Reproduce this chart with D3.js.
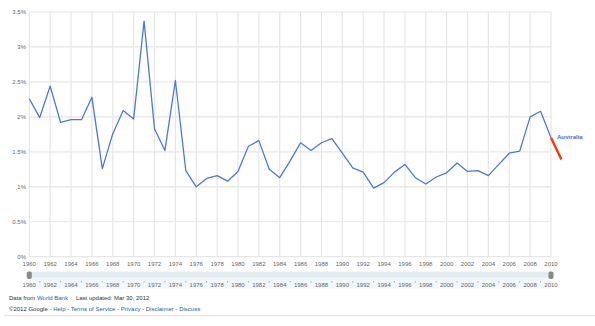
<!DOCTYPE html>
<html>
<head>
<meta charset="utf-8">
<script src="https://cdn.jsdelivr.net/npm/d3@7"></script>
<style>
  html, body { margin: 0; padding: 0; background: #fff; }
  svg { display: block; font-family: Arial, "Liberation Sans", sans-serif; }
</style>
</head>
<body>
<svg id="chart" width="595" height="326"></svg>
<script>
// Australia, population growth (annual %), World Bank
const years = d3.range(1960, 2011);
const growth = [
  2.26, 1.99, 2.44, 1.92, 1.96, 1.96, 2.28, 1.26, 1.76, 2.09,
  1.97, 3.37, 1.83, 1.52, 2.52, 1.23, 1.00, 1.12, 1.16, 1.08,
  1.22, 1.58, 1.66, 1.25, 1.13, 1.37, 1.63, 1.52, 1.63, 1.69,
  1.48, 1.27, 1.21, 0.98, 1.06, 1.21, 1.32, 1.13, 1.04, 1.14,
  1.20, 1.34, 1.22, 1.23, 1.16, 1.32, 1.48, 1.51, 2.00, 2.08,
  1.70
];
// highlighted trailing segment
const tailYears = [2010, 2011];
const tailValues = [1.70, 1.39];
const seriesName = "Australia";

const yTicks = [0, 0.5, 1, 1.5, 2, 2.5, 3, 3.5];
const xTicks = d3.range(1960, 2011, 2);
const minorTicks = d3.range(1961, 2010, 2);

const svg = d3.select("#chart");

const x = d3.scaleLinear().domain([1960, 2010]).range([29.3, 551]);
const y = d3.scaleLinear().domain([0, 3.5]).range([256.7, 12]);

const grid = "#e6e6e6";
const textCol = "#666";

// grid
svg.append("g").selectAll("line.h").data(yTicks).join("line")
  .attr("x1", x(1960)).attr("x2", x(2010))
  .attr("y1", d => y(d)).attr("y2", d => y(d))
  .attr("stroke", grid).attr("stroke-width", 1.2);
svg.append("g").selectAll("line.v").data(xTicks).join("line")
  .attr("x1", d => x(d)).attr("x2", d => x(d))
  .attr("y1", y(3.5)).attr("y2", y(0))
  .attr("stroke", grid).attr("stroke-width", 1.2);

// y labels
svg.append("g").selectAll("text").data(yTicks).join("text")
  .attr("x", 26).attr("y", d => y(d) + 2)
  .attr("text-anchor", "end")
  .attr("font-size", 6).attr("fill", textCol)
  .text(d => d + "%");

// x labels
svg.append("g").selectAll("text").data(xTicks).join("text")
  .attr("x", d => x(d)).attr("y", 266)
  .attr("text-anchor", "middle")
  .attr("font-size", 6).attr("fill", textCol)
  .text(d => d);

// series line
const line = d3.line().x(d => x(d[0])).y(d => y(d[1]));
svg.append("path")
  .datum(years.map((yr, i) => [yr, growth[i]]))
  .attr("d", line)
  .attr("fill", "none")
  .attr("stroke", "#4a79d8")
  .attr("stroke-width", 1.3)
  .attr("stroke-linejoin", "round");

svg.append("path")
  .datum(tailYears.map((yr, i) => [yr, tailValues[i]]))
  .attr("d", line)
  .attr("fill", "none")
  .attr("stroke", "#f53a0c")
  .attr("stroke-width", 2.4);

svg.append("text")
  .attr("x", 557).attr("y", y(1.7) + 1)
  .attr("font-size", 6).attr("font-weight", "bold")
  .attr("fill", "#3f6fd6")
  .text(seriesName);

// time slider
const slider = svg.append("g");
slider.append("rect")
  .attr("x", x(1960)).attr("y", 271)
  .attr("width", x(2010) - x(1960)).attr("height", 17.5)
  .attr("fill", "#f1f8fb");
slider.append("rect")
  .attr("x", x(1960)).attr("y", 272)
  .attr("width", x(2010) - x(1960)).attr("height", 5.5)
  .attr("fill", "#e2ecf1");
slider.selectAll("text").data(xTicks).join("text")
  .attr("x", d => x(d)).attr("y", 286.5)
  .attr("text-anchor", "middle")
  .attr("font-size", 6).attr("fill", textCol)
  .text(d => d);
slider.selectAll("line").data(minorTicks).join("line")
  .attr("x1", d => x(d)).attr("x2", d => x(d))
  .attr("y1", 281).attr("y2", 282.5)
  .attr("stroke", "#999").attr("stroke-width", 0.8);
[1960, 2010].forEach(yr => {
  slider.append("rect")
    .attr("x", x(yr) - 2.5).attr("y", 271.5)
    .attr("width", 5).attr("height", 7.5)
    .attr("rx", 1.8)
    .attr("fill", "#8a8a8a");
});

// footer
const foot = svg.append("g").attr("font-size", 6).attr("fill", "#333");
const l1 = foot.append("text").attr("x", 9).attr("y", 299.5);
l1.append("tspan").text("Data from ");
l1.append("tspan").attr("fill", "#2a5db0").text("World Bank");
l1.append("tspan").attr("dx", 8).text("Last updated: Mar 30, 2012");

const l2 = foot.append("text").attr("x", 9).attr("y", 310.5);
const parts = ["Help", "Terms of Service", "Privacy", "Disclaimer", "Discuss"];
l2.append("tspan").text("\u00a92012 Google");
parts.forEach(p => {
  l2.append("tspan").text(" - ");
  l2.append("tspan").attr("fill", "#2a5db0").text(p);
});

svg.append("line")
  .attr("x1", 4).attr("x2", 595)
  .attr("y1", 315.7).attr("y2", 315.7)
  .attr("stroke", "#ece4d4").attr("stroke-width", 1.2);
</script>
</body>
</html>
